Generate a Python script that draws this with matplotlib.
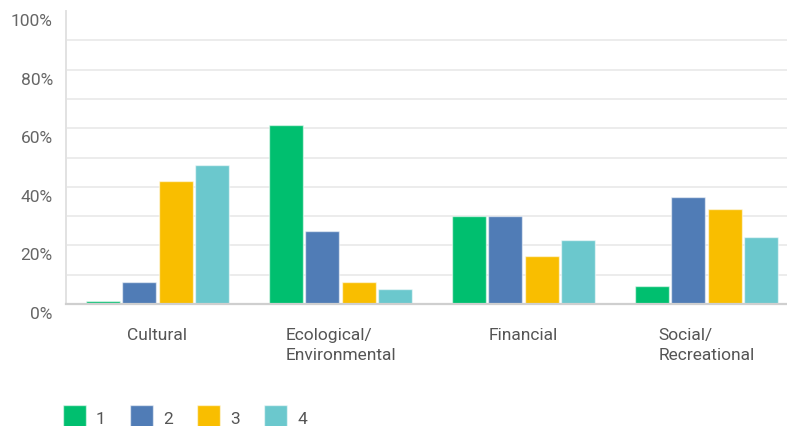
import matplotlib.pyplot as plt
from matplotlib.patches import Patch
from matplotlib.transforms import ScaledTranslation
import numpy as np

categories = ["Cultural", "Ecological/\nEnvironmental", "Financial", "Social/\nRecreational"]
series_names = ["1", "2", "3", "4"]
values = {
    "1": [1.0, 61.0, 30.0, 6.0],
    "2": [7.5, 25.0, 30.0, 36.5],
    "3": [42.0, 7.5, 16.5, 32.5],
    "4": [47.5, 5.0, 22.0, 23.0],
}
colors = ["#00bf6f", "#507cb6", "#f9be00", "#6bc8cd"]
ytick_values = [0, 20, 40, 60, 80, 100]
ytick_labels = ["0%", "20%", "40%", "60%", "80%", "100%"]

plt.rcParams["font.family"] = ["Roboto", "DejaVu Sans"]

fig = plt.figure(figsize=(7.87, 4.27), dpi=100)
# axes run slightly past the right edge of the canvas
ax = fig.add_axes([66 / 787, 122 / 427, 732 / 787, 293 / 427])

x = np.arange(len(categories))
step = 0.198
width = 0.186
for i, name in enumerate(series_names):
    ax.bar(
        x + (i - 1.5) * step,
        values[name],
        width=width,
        color=colors[i],
        edgecolor=(1, 1, 1, 0.55),
        linewidth=1.0,
        zorder=3,
    )

ax.set_xlim(-0.5, 3.5)
ax.set_ylim(0, 100)

ax.set_yticks(ytick_values, ytick_labels)
ax.set_yticks([10, 30, 50, 70, 90], minor=True)
ax.grid(axis="y", which="both", color="#ececec", linewidth=1.4, zorder=0)
ax.get_ygridlines()[-1].set_visible(False)
ax.tick_params(axis="y", which="both", length=0, pad=9.5, labelsize=12.5, labelcolor="#666666")
offset = ScaledTranslation(0, -8 / 100, fig.dpi_scale_trans)
for label in ax.get_yticklabels():
    label.set_transform(label.get_transform() + offset)

ax.set_xticks(x, categories)
ax.tick_params(axis="x", length=0, pad=16.5, labelsize=12.5, labelcolor="#555555")
for label in ax.get_xticklabels():
    label.set_multialignment("left")
    label.set_linespacing(1.4)

for side in ("top", "right"):
    ax.spines[side].set_visible(False)
ax.spines["left"].set_color("#e2e2e2")
ax.spines["left"].set_linewidth(1.4)
ax.spines["bottom"].set_color("#cfcfcf")
ax.spines["bottom"].set_linewidth(1.6)
ax.spines["bottom"].set_zorder(4)

handles = [Patch(facecolor=c, edgecolor=(1, 1, 1, 0.55)) for c in colors]
fig.legend(
    handles,
    series_names,
    loc="upper left",
    bbox_to_anchor=(63 / 787, 21 / 427),
    ncol=4,
    frameon=False,
    fontsize=12.5,
    labelcolor="#555555",
    handlelength=1.3,
    handleheight=1.9,
    handletextpad=0.6,
    columnspacing=1.4,
    borderpad=0,
    borderaxespad=0,
)

fig.savefig("out.png", dpi=100)
